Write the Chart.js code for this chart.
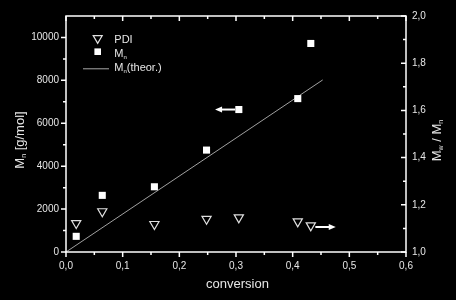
<!DOCTYPE html>
<html><head><meta charset="utf-8">
<script src="https://cdn.jsdelivr.net/npm/chart.js@4.4.1/dist/chart.umd.min.js"></script>
<style>html,body{margin:0;padding:0;background:#000;overflow:hidden}#wrap{width:456px;height:300px}</style>
</head><body><div id="wrap"><canvas id="c" width="456" height="300"></canvas></div>
<script>
// ---- data ----
const conversion = [0.018, 0.064, 0.156, 0.248, 0.305, 0.409, 0.432];
const mnValues   = [730, 2640, 3040, 4750, 6640, 7150, 9720];
const pdiValues  = [1.122, 1.172, 1.118, 1.140, 1.146, 1.129, 1.112];
const theorConversion = [0, 0.453];
const theorMn         = [0, 8020];
const xTickValues  = [0, 0.1, 0.2, 0.3, 0.4, 0.5, 0.6];
const yTickValues  = [0, 2000, 4000, 6000, 8000, 10000];
const y1TickValues = [1.0, 1.2, 1.4, 1.6, 1.8, 2.0];
// arrows in data units: [fromX, toX, y]
const arrowMn  = [0.2985, 0.263, 6640];
const arrowPDI = [0.440, 0.476, 1.106];
const legendLabels = ['PDI', 'M|n', 'M|n|(theor.)'];
const xTitle = 'conversion';
const yTitle = 'M|n| [g/mol]';
const y1Title = 'M|w| / M|n';

const FONT = '"Liberation Sans", Arial, sans-serif';
const TXT = '#e6e6e6';

function richParts(s){ // alternate normal|sub|normal...
  return s.split('|').map((t,i)=>({t, sub: i%2===1}));
}
function drawRich(ctx, s, x, y, size, align){
  const parts = richParts(s);
  const subSize = Math.round(size*0.55);
  let w = 0;
  parts.forEach(p=>{ ctx.font = (p.sub?subSize:size)+'px '+FONT; p.w = ctx.measureText(p.t).width; w += p.w; });
  let cx = align==='center' ? x - w/2 : x;
  ctx.textBaseline = 'alphabetic'; ctx.textAlign = 'left';
  parts.forEach(p=>{
    ctx.font = (p.sub?subSize:size)+'px '+FONT;
    ctx.fillText(p.t, cx, p.sub ? y + size*0.18 : y);
    cx += p.w;
  });
}

const decorPlugin = {
  id: 'decor',
  afterDatasetsDraw(chart){
    const {ctx, chartArea:a, scales} = chart;
    const sx = scales.x, sy = scales.y, sy1 = scales.y1;
    ctx.save();
    ctx.strokeStyle = '#fff'; ctx.lineWidth = 1.5; ctx.lineCap = 'butt';
    ctx.strokeRect(a.left, a.top, a.right - a.left, a.bottom - a.top);
    const mids = arr => arr.slice(0,-1).map((v,i)=>(v+arr[i+1])/2);
    ctx.beginPath();
    // bottom (outward) + top (inward)
    [[xTickValues,5],[mids(xTickValues),3]].forEach(([vals,len])=>{
      vals.forEach(v=>{
        const px = sx.getPixelForValue(v);
        ctx.moveTo(px, a.bottom); ctx.lineTo(px, a.bottom + len);
        ctx.moveTo(px, a.top); ctx.lineTo(px, a.top + len);
      });
    });
    // left (outward)
    [[yTickValues,5],[mids(yTickValues),3]].forEach(([vals,len])=>{
      vals.forEach(v=>{
        const py = sy.getPixelForValue(v);
        ctx.moveTo(a.left, py); ctx.lineTo(a.left - len, py);
      });
    });
    // right (inward)
    [[y1TickValues,5],[mids(y1TickValues),3]].forEach(([vals,len])=>{
      vals.forEach(v=>{
        const py = sy1.getPixelForValue(v);
        ctx.moveTo(a.right, py); ctx.lineTo(a.right - len, py);
      });
    });
    ctx.stroke();

    // arrows
    function arrow(x0, x1, y){
      ctx.save();
      ctx.strokeStyle = '#fff'; ctx.fillStyle = '#fff'; ctx.lineWidth = 2;
      const dir = Math.sign(x1 - x0);
      ctx.beginPath(); ctx.moveTo(x0, y); ctx.lineTo(x1 - dir*6, y); ctx.stroke();
      ctx.beginPath(); ctx.moveTo(x1, y); ctx.lineTo(x1 - dir*7, y - 3); ctx.lineTo(x1 - dir*7, y + 3); ctx.closePath(); ctx.fill();
      ctx.restore();
    }
    arrow(sx.getPixelForValue(arrowMn[0]), sx.getPixelForValue(arrowMn[1]), sy.getPixelForValue(arrowMn[2]));
    arrow(sx.getPixelForValue(arrowPDI[0]), sx.getPixelForValue(arrowPDI[1]), sy1.getPixelForValue(arrowPDI[2]));

    // legend
    ctx.fillStyle = TXT;
    ctx.strokeStyle = '#e0e0e0'; ctx.lineWidth = 1.2;
    const lx = 97.7;
    ctx.beginPath(); // down triangle
    const r = 5.2, ty = 38.2;
    ctx.moveTo(lx, ty + r); ctx.lineTo(lx - r*0.866, ty - r/2); ctx.lineTo(lx + r*0.866, ty - r/2); ctx.closePath(); ctx.stroke();
    ctx.fillStyle = '#fff';
    ctx.fillRect(lx - 3.3, 51.7 - 3.3, 6.6, 6.6);
    ctx.strokeStyle = '#a8a8a8'; ctx.lineWidth = 1;
    ctx.beginPath(); ctx.moveTo(83, 68.8); ctx.lineTo(109, 68.8); ctx.stroke();
    ctx.fillStyle = TXT;
    drawRich(ctx, legendLabels[0], 114.3, 42.5, 11, 'left');
    drawRich(ctx, legendLabels[1], 114.3, 56.8, 11, 'left');
    drawRich(ctx, legendLabels[2], 114.3, 70.6, 11, 'left');

    // axis titles
    drawRich(ctx, xTitle, (a.left + a.right)/2 + 1.5, 288.2, 13, 'center');
    ctx.save(); ctx.translate(24, 140); ctx.rotate(-Math.PI/2);
    drawRich(ctx, yTitle, 0, 0, 13, 'center'); ctx.restore();
    ctx.save(); ctx.translate(440.5, 140.5); ctx.rotate(-Math.PI/2);
    drawRich(ctx, y1Title, 0, 0, 13, 'center'); ctx.restore();
    ctx.restore();
  }
};

const bgPlugin = {
  id: 'bg',
  beforeDraw(chart){ const c = chart.ctx; c.save(); c.fillStyle = '#000'; c.fillRect(0,0,chart.width,chart.height); c.restore(); }
};

const tickFont = {family: FONT, size: 10};
new Chart(document.getElementById('c'), {
  type: 'scatter',
  data: {
    datasets: [
      { label: 'PDI', data: conversion.map((x,i)=>({x, y: pdiValues[i]})), yAxisID: 'y1',
        pointStyle: 'triangle', rotation: 180, pointRadius: 5.3, pointHoverRadius: 5.3,
        backgroundColor: 'rgba(0,0,0,0)', borderColor: '#e0e0e0', borderWidth: 1.2, order: 1 },
      { label: 'Mn', data: conversion.map((x,i)=>({x, y: mnValues[i]})), yAxisID: 'y',
        pointStyle: 'rect', pointRadius: 5, pointHoverRadius: 5,
        backgroundColor: '#fff', borderColor: '#fff', borderWidth: 0, order: 1 },
      { type: 'line', label: 'Mn(theor.)', data: theorConversion.map((x,i)=>({x, y: theorMn[i]})), yAxisID: 'y',
        borderColor: '#a0a0a0', borderWidth: 1, pointRadius: 0, fill: false, order: 3 }
    ]
  },
  options: {
    responsive: false, animation: false, devicePixelRatio: 1,
    layout: { padding: { top: 16, left: 0, right: 0, bottom: 0 } },
    plugins: { legend: { display: false }, tooltip: { enabled: false } },
    scales: {
      x: { type: 'linear', position: 'bottom', min: 0, max: 0.6,
        afterBuildTicks: s => { s.ticks = xTickValues.map(v=>({value:v})); },
        afterFit: s => { s.height = 48; },
        grid: { display: false, drawTicks: false }, border: { display: false },
        ticks: { color: TXT, font: tickFont, padding: 8, autoSkip: false, maxRotation: 0,
          callback: v => v.toFixed(1).replace('.', ',') } },
      y: { type: 'linear', position: 'left', min: 0, max: 11000,
        afterBuildTicks: s => { s.ticks = yTickValues.map(v=>({value:v})); },
        afterFit: s => { s.width = 66; },
        grid: { display: false, drawTicks: false }, border: { display: false },
        ticks: { color: TXT, font: tickFont, padding: 7, callback: v => String(v) } },
      y1: { type: 'linear', position: 'right', min: 1, max: 2,
        afterBuildTicks: s => { s.ticks = y1TickValues.map(v=>({value:v})); },
        afterFit: s => { s.width = 50; },
        grid: { display: false, drawTicks: false }, border: { display: false },
        ticks: { color: TXT, font: tickFont, padding: 6, callback: v => v.toFixed(1).replace('.', ',') } }
    }
  },
  plugins: [bgPlugin, decorPlugin]
});
</script></body></html>
